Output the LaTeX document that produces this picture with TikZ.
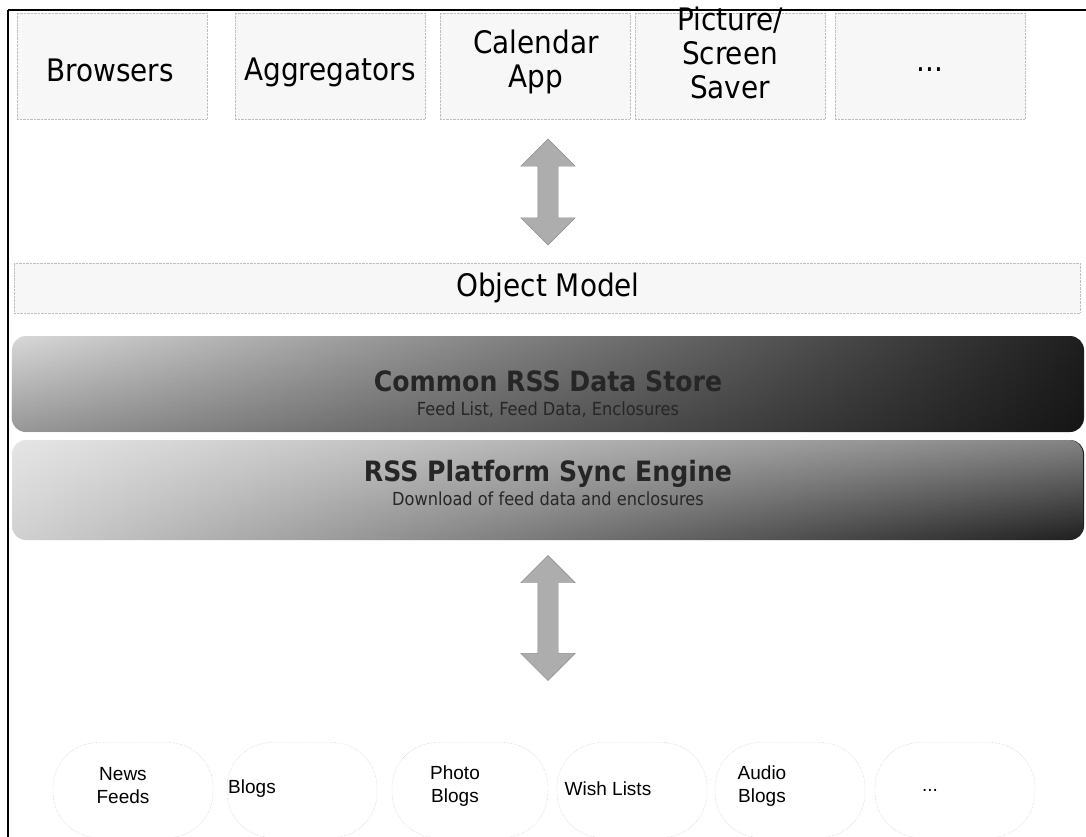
\documentclass[tikz,border=0pt]{standalone}
\usepackage{fontspec}
\setmainfont{DejaVu Sans Condensed}
\newfontfamily\itemfont{Liberation Sans}
\usetikzlibrary{shapes.arrows,fadings}
\begin{document}
\begin{tikzpicture}[x=1pt,y=-1pt,
  cell/.style={draw=black!25, densely dotted, fill=black!3, minimum width=190pt, minimum height=106pt, inner sep=0pt},
  toptext/.style={font=\fontsize{31}{34}\selectfont, align=center},
  band/.style={rounded corners=14pt},
  bandtitle/.style={font=\fontsize{28}{30}\selectfont\bfseries, text=black!85},
  bandsub/.style={font=\fontsize{18}{20}\selectfont, text=black!85},
  pill/.style={draw=black!25, densely dotted, fill=white, rounded corners=45pt, minimum height=95pt, inner sep=0pt},
  srctext/.style={font=\itemfont\fontsize{19}{23}\selectfont, align=center},
  bigarrow/.style={double arrow, shape border rotate=90, fill=black!32, draw=black!45,
    inner xsep=10pt, inner ysep=0pt, double arrow head extend=17pt, double arrow head indent=0pt}
]
\useasboundingbox (0,0) rectangle (1086,837);
\fill[white] (0,0) rectangle (1086,837);

% frame
\draw[line width=1.6pt] (8,10) -- (1086,10);
\draw[line width=1.6pt] (8,10) -- (8,837);

% client applications
\node[cell] (c1) at (112,66) {};
\node[cell] (c2) at (330,66) {};
\node[cell] (c3) at (535,66) {};
\node[cell] (c4) at (730,66) {};
\node[cell] (c5) at (930,66) {};
\node[toptext] at (110,70) {Browsers};
\node[toptext] at (330,72) {Aggregators};
\node[toptext] at (536,62) {Calendar\\App};
\node[toptext] at (730,53) {Picture/\\Screen\\Saver};
\node[toptext] at (930,70) {...};

% object model layer
\node[draw=black!25, densely dotted, fill=black!3, minimum width=1066pt, minimum height=50pt, inner sep=0pt] (om) at (547,288) {};
\node[toptext] at (548,288) {Object Model};

% common data store
\shade[band, left color=black!15, right color=black!88] (12,336) rectangle (1084,432);
\fill[band, black, opacity=0.3, path fading=north] (12,336) rectangle (1084,432);
\node[bandtitle] (store) at (548,381) {Common RSS Data Store};
\node[bandsub] at (548,410) {Feed List, Feed Data, Enclosures};

% sync engine
\shade[band, left color=black!18, right color=black!88] (12,440) rectangle (1084,540);
\fill[band, white, opacity=0.45, path fading=south] (12,440) rectangle (1084,540);
\node[bandtitle] (sync) at (548,474) {RSS Platform Sync Engine};
\node[bandsub] at (548,499) {Download of feed data and enclosures};

% two-way data flow
\node[bigarrow, minimum height=106pt] (a1) at (548,192) {};
\node[bigarrow, minimum height=125pt] (a2) at (548,618) {};

% feed sources
\node[pill, minimum width=160pt] (s1) at (133,790) {};
\node[pill, minimum width=150pt] (s2) at (302,790) {};
\node[pill, minimum width=156pt] (s3) at (470,790) {};
\node[pill, minimum width=150pt] (s4) at (632,790) {};
\node[pill, minimum width=150pt] (s5) at (790,790) {};
\node[pill, minimum width=160pt] (s6) at (955,790) {};
\node[srctext] at (123,786) {News\\Feeds};
\node[srctext] at (252,789) {Blogs};
\node[srctext] at (455,786) {Photo\\Blogs};
\node[srctext] at (608,789) {Wish Lists};
\node[srctext] at (762,786) {Audio\\Blogs};
\node[srctext] at (930,790) {...};
\end{tikzpicture}
\end{document}
